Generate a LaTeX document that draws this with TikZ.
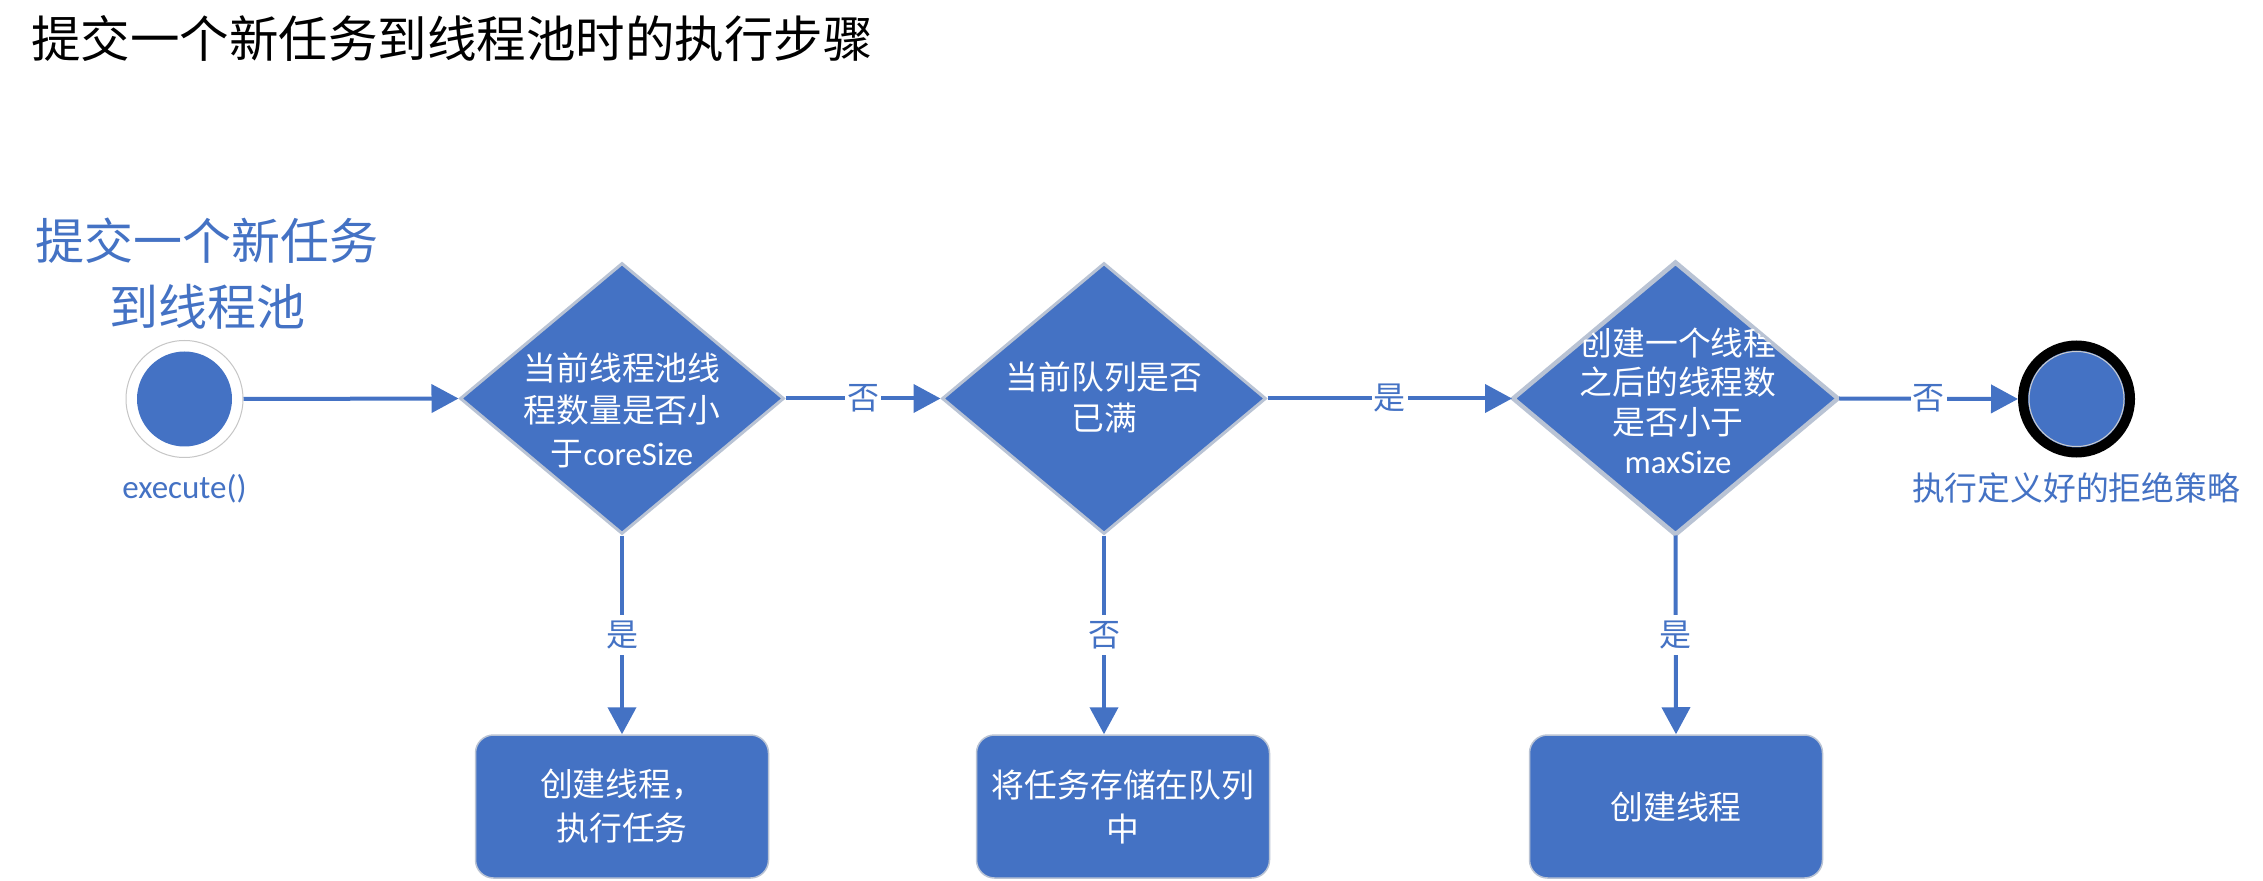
\documentclass[tikz,border=0pt]{standalone}
\usepackage{fontspec}
\setmainfont{Carlito}
\newfontfamily\cjk{Noto Sans CJK SC}
\usetikzlibrary{shapes.geometric,arrows.meta}
\definecolor{fc}{HTML}{4472C4}
\definecolor{bd}{HTML}{B9C3D4}
\newcommand\latn[1]{{\rmfamily #1}}
\begin{document}
\begin{tikzpicture}[x=0.5pt,y=-0.5pt,
  decbox/.style={diamond, fill=fc, draw=bd, line width=1.5pt, minimum width=162pt, minimum height=135.5pt, inner sep=0pt},
  procbox/.style={rectangle, rounded corners=9pt, fill=fc, draw=bd, line width=0.75pt, minimum width=146.5pt, minimum height=71.5pt, inner sep=0pt, text=white, align=center, font=\cjk\fontsize{16.4}{22}\selectfont},
  dtext/.style={text=white, align=center, inner sep=0pt},
  lbl/.style={fill=white, text=fc, font=\cjk\fontsize{16}{16}\selectfont, inner xsep=1pt, inner ysep=3pt},
  arr/.style={draw=fc, line width=2pt, -{Triangle[length=13.5pt,width=14pt]}}
]
\fill[white] (0,0) rectangle (2263,881);
\useasboundingbox (0,0) rectangle (2263,881);

% title
\node[anchor=west, inner sep=0pt, font=\cjk\fontsize{24.75}{24.75}\selectfont] (title) at (31,39) {提交一个新任务到线程池时的执行步骤};

% start
\node[text=fc, align=center, inner sep=0pt, font=\cjk\fontsize{24.5}{33}\selectfont] (sub) at (207,274) {提交一个新任务\\到线程池};
\node[circle, draw=gray!45, line width=0.5pt, minimum size=58.5pt, inner sep=0pt] (start) at (184.5,399) {};
\node[circle, fill=fc, minimum size=47.5pt, inner sep=0pt] (startin) at (start.center) {};
\node[text=fc, inner sep=0pt, font=\fontsize{16.5}{16.5}\selectfont] (exe) at (184.5,489) {execute()};

% decisions
\node[decbox] (d1) at (622,398.5) {};
\node[decbox] (d2) at (1104,398.5) {};
\node[decbox] (d3) at (1675.5,398.5) {};

\node[dtext, font=\cjk\fontsize{16.4}{21.25}\selectfont] (t1) at (622,410) {当前线程池线\\程数量是否小\\于\latn{coreSize}};
\node[dtext, font=\cjk\fontsize{16.4}{20.5}\selectfont] (t2) at (1104,397.5) {当前队列是否\\已满};
\begin{scope}
\clip (d3.north) -- (d3.east) -- (d3.south) -- (d3.west) -- cycle;
\node[dtext, font=\cjk\fontsize{16.4}{19.75}\selectfont] (t3) at (1678,401) {创建一个线程\\之后的线程数\\是否小于\\\latn{maxSize}};
\end{scope}
\draw[bd, line width=1.5pt] (d3.north) -- (d3.east) -- (d3.south) -- (d3.west) -- cycle;

% end
\node[circle, fill=fc, draw=black, line width=5pt, minimum size=53.5pt, inner sep=0pt] (end) at (2076.5,399) {};
\node[circle, draw=gray!40, line width=0.5pt, minimum size=47.5pt, inner sep=0pt] (endin) at (end.center) {};
\node[text=fc, inner sep=0pt, font=\cjk\fontsize{16.4}{16.4}\selectfont] (endlbl) at (2076,488) {执行定义好的拒绝策略};

% process boxes
\node[procbox] (b1) at (622,806.5) {创建线程，\\执行任务};
\node[procbox] (b2) at (1123,806.5) {将任务存储在队列\\中};
\node[procbox] (b3) at (1676,806.5) {创建线程};

% connectors
\draw[arr] (start.east) -- (d1.west);
\draw[arr] (d1.east) -- node[lbl] {否} (d2.west);
\draw[arr] (d2.east) -- node[lbl] {是} (d3.west);
\draw[arr] (d3.east) -- node[lbl] {否} (end.west);
\draw[arr] (d1.south) -- node[lbl] {是} (b1.north);
\draw[arr] (d2.south) -- node[lbl] {否} (d2.south |- b2.north);
\draw[arr] (d3.south) -- node[lbl] {是} (b3.north);
\end{tikzpicture}
\end{document}
